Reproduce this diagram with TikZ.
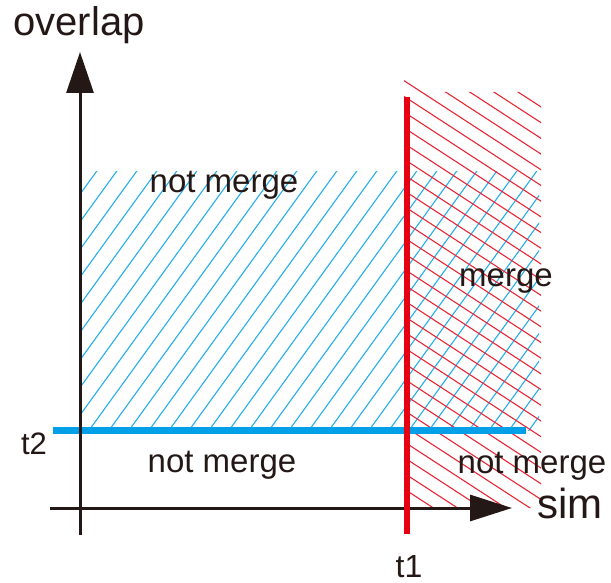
\documentclass[tikz,border=0pt]{standalone}
\usepackage{fontspec}
\setmainfont{Liberation Sans}
\usetikzlibrary{arrows.meta}
\definecolor{lineblue}{HTML}{00A0E9}
\definecolor{linered}{HTML}{E60012}
\definecolor{ink}{HTML}{231815}
\tikzset{
	label/.style={anchor=base, inner sep=0pt, text=ink, font=\fontsize{33}{36}\selectfont},
	axis/.style={draw=ink, line width=3pt},
	hatchblue/.style={draw=lineblue!85, line width=1.1pt},
	hatchred/.style={draw=linered!85, line width=1.1pt}
}
\begin{document}
\begin{tikzpicture}[x=1pt, y=-1pt]
	  \useasboundingbox (0,0) rectangle (611,583);
	  
	  \coordinate (ybot) at (80,535);
	  \coordinate (ytop) at (80,52);
	  \coordinate (xleft) at (50,508);
	  \coordinate (xright) at (512,508);
	  \coordinate (t1bot) at (407,534);
	  \coordinate (t1top) at (407,97);
	  \coordinate (t2left) at (53,430);
	  \coordinate (t2right) at (526,430);
	  
	  \begin{scope}
	    \clip (80,172) rectangle (539,430);
	    \foreach \i in {-11,...,23}
	      \draw[hatchblue] (82+20*\i,440) -- (82+20*\i+197,172-4);
	  \end{scope}
	  
	  \begin{scope}
	    \clip (404,78) -- (432,92) -- (541,92) -- (541,508) -- (404,508) -- cycle;
	    \foreach \k in {-9,...,27}
	      \draw[hatchred] (397,82.6+15.7*\k-6.5) -- (550,82.6+15.7*\k+93);
	  \end{scope}
	  
	  \draw[lineblue, line width=7pt] (t2left) -- (t2right);
	  \draw[axis, -{Triangle[length=42pt, width=26pt]}] (xleft) -- (xright);
	  \draw[axis, -{Triangle[length=41pt, width=27pt]}] (ybot) -- (ytop);
	  \draw[linered, line width=6pt] (t1bot) -- (t1top);
	  
	  \node[label, font=\fontsize{40}{44}\selectfont] (overlap) at (79,36) {overlap};
	  \node[label, font=\fontsize{42}{46}\selectfont] (sim) at (570,518) {sim};
	  \node[label, font=\fontsize{32}{36}\selectfont] (t1) at (409,577) {t1};
	  \node[label, font=\fontsize{31}{34}\selectfont] (t2) at (34,454) {t2};
	  \node[label] (nm1) at (224,193) {not merge};
	  \node[label] (m) at (506,287) {merge};
	  \node[label] (nm2) at (222,472) {not merge};
	  \node[label] (nm3) at (532,473) {not merge};
\end{tikzpicture}
\end{document}
